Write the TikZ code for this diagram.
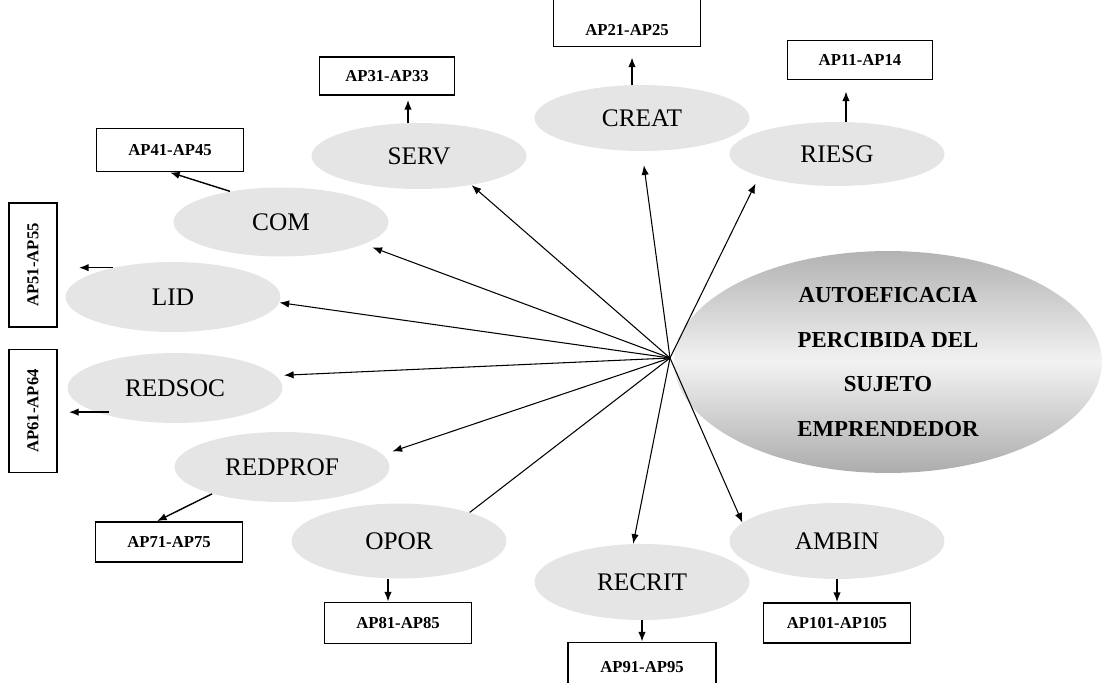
\documentclass[tikz,border=0pt]{standalone}
\usepackage{fontspec}
\setmainfont{Liberation Serif}
\usetikzlibrary{shapes.geometric,arrows.meta,calc}

\begin{document}
\begin{tikzpicture}[x=0.02cm,y=-0.02cm,
    factor/.style={ellipse,fill=gray!20,minimum width=4.3cm,minimum height=1.4cm,inner sep=0pt,font=\fontsize{14.4}{16}\selectfont},
    apbox/.style={draw,line width=1pt,minimum width=2.94cm,minimum height=0.8cm,inner sep=0pt,font=\bfseries\fontsize{9.5}{10}\selectfont},
    aplabel/.style={font=\bfseries\fontsize{9.5}{10}\selectfont},
    spoke/.style={line width=0.6pt,-{Latex[length=5.5pt,width=4.2pt]}},
    leg/.style={line width=0.8pt,-{Latex[length=5.5pt,width=4.2pt]}}]
  \useasboundingbox (0,0) rectangle (1103,683);

  % central construct
  \node[ellipse,top color=gray!60,bottom color=gray!65,middle color=gray!10,minimum width=8.56cm,minimum height=4.44cm,inner sep=0pt,align=center,font=\bfseries\fontsize{13}{25.5}\selectfont] (ape) at (888,362) {AUTOEFICACIA\\PERCIBIDA DEL\\SUJETO\\EMPRENDEDOR};
  \coordinate (hub) at (670,358);

  % factors
  \node[factor,minimum height=1.28cm] (riesg) at (837,154) {RIESG};
  \node[factor,minimum height=1.32cm] (creat) at (642,118) {CREAT};
  \node[factor,minimum height=1.32cm] (serv) at (419,156) {SERV};
  \node[factor,minimum height=1.38cm] (com) at (281,222) {COM};
  \node[factor] (lid) at (173,297) {LID};
  \node[factor] (redsoc) at (175,388) {REDSOC};
  \node[factor] (redprof) at (282,467) {REDPROF};
  \node[factor,minimum height=1.5cm] (opor) at (399,541) {OPOR};
  \node[factor,minimum height=1.52cm] (recrit) at (642,582) {RECRIT};
  \node[factor,minimum height=1.52cm] (ambin) at (837,541) {AMBIN};

  % item boxes
  \node[apbox,minimum width=2.9cm,minimum height=0.78cm] (b1) at (860,60) {AP11-AP14};
  \node[draw,line width=1pt,minimum width=2.94cm,minimum height=1.14cm] (b2) at (627,18) {};
  \node[aplabel] at (627,30) {AP21-AP25};
  \node[apbox,minimum width=2.7cm,minimum height=0.76cm] (b3) at (387,76) {AP31-AP33};
  \node[apbox,minimum height=0.86cm] (b4) at (170,150) {AP41-AP45};
  \node[apbox,rotate=90,minimum width=2.48cm,minimum height=0.96cm] (b5) at (33,265) {AP51-AP55};
  \node[apbox,rotate=90,minimum width=2.46cm,minimum height=0.96cm] (b6) at (33,411) {AP61-AP64};
  \node[apbox] (b7) at (169,542) {AP71-AP75};
  \node[apbox,minimum height=0.82cm] (b8) at (398,623) {AP81-AP85};
  \node[draw,line width=1pt,minimum width=2.96cm,minimum height=1.14cm] (b9) at (642,671) {};
  \node[aplabel] at (642,667) {AP91-AP95};
  \node[apbox] (b10) at (837,623) {AP101-AP105};

  % spokes
  \draw[spoke,shorten >=0.16cm] (hub) -- (riesg.196);
  \draw[spoke,shorten >=0.28cm] (hub) -- (creat.south);
  \draw[spoke] (hub) -- (serv.331);
  \draw[spoke,shorten >=0.18cm] (hub) -- (com.345);
  \draw[spoke] (hub) -- (lid.357);
  \draw[spoke,shorten >=0.16cm] (hub) -- (redsoc.7);
  \draw[spoke,shorten >=0.2cm] (hub) -- (redprof.7);
  \draw[line width=0.6pt] (hub) -- (opor.22);
  \draw[spoke] (hub) -- (recrit.103);
  \draw[spoke] (hub) -- (ambin.169);

  % items
  \draw[leg,shorten >=0.22cm] ([xshift=0.18cm]riesg.north) -- ([xshift=0.18cm]riesg.north |- b1.south);
  \draw[leg,shorten >=0.2cm] ([xshift=-0.2cm]creat.north) -- ([xshift=-0.2cm]creat.north |- b2.south);
  \draw[leg,shorten >=0.08cm] ([xshift=-0.22cm]serv.north) -- ([xshift=-0.22cm]serv.north |- b3.south);
  \draw[leg] (com.149) -- (b4.south);
  \draw[leg,shorten >=0.42cm] (lid.154) -- (lid.154 -| b5.south);
  \draw[leg,shorten <=-0.26cm,shorten >=0.22cm] (redsoc.197) -- (redsoc.197 -| b6.south);
  \draw[leg] (redprof.201) -- ([xshift=-0.24cm]b7.north);
  \draw[leg] ([xshift=-0.22cm]opor.south) -- ([xshift=-0.22cm]opor.south |- b8.north);
  \draw[leg] (recrit.south) -- (recrit.south |- b9.north);
  \draw[leg] (ambin.south) -- (b10.north);
\end{tikzpicture}
\end{document}
